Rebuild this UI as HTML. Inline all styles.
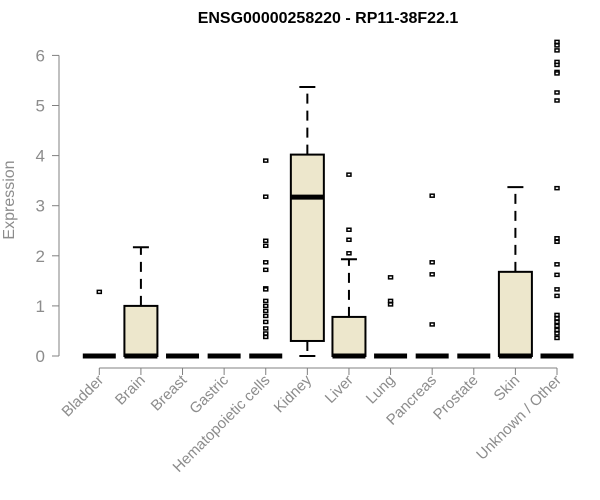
<!DOCTYPE html>
<html><head><meta charset="utf-8"><style>
body{margin:0;background:#fff;}
svg{display:block;font-family:"Liberation Sans",Arial,sans-serif;}
</style></head><body>
<svg id="chart" width="600" height="500">
<text x="328" y="23" text-anchor="middle" font-weight="bold" font-size="16">ENSG00000258220 - RP11-38F22.1</text>
<text transform="translate(14,200) rotate(-90)" text-anchor="middle" font-size="16" fill="#8c8c8c">Expression</text>
<g id="axes"></g>
<g id="boxes"></g>
</svg>
<script>
const categories=["Bladder","Brain","Breast","Gastric","Hematopoietic cells","Kidney","Liver","Lung","Pancreas","Prostate","Skin","Unknown / Other"];
const lowWhisker=[0,0,0,0,0,0,0,0,0,0,0,0];
const q1=[0,0,0,0,0,0.3,0,0,0,0,0,0];
const medians=[0,0,0,0,0,3.17,0,0,0,0,0,0];
const q3=[0,1.0,0,0,0,4.02,0.78,0,0,0,1.68,0];
const highWhisker=[0,2.17,0,0,0,5.37,1.93,0,0,0,3.37,0];
const outliers=[[1.28],[],[],[],[3.9,3.18,2.3,2.2,1.87,1.72,1.35,1.33,1.1,1.0,0.9,0.8,0.68,0.55,0.45,0.38],[],[3.62,2.52,2.32,2.05],[1.57,1.1,1.03],[3.2,1.87,1.63,0.63],[],[],[6.27,6.2,6.1,5.87,5.81,5.67,5.64,5.26,5.1,3.35,2.35,2.28,1.83,1.62,1.33,1.2,0.82,0.75,0.68,0.6,0.52,0.45,0.36]];
const yTicks=[0,1,2,3,4,5,6];
const NS="http://www.w3.org/2000/svg";
function y(v){return 356-v*50.1;}
function x(i){return 99.3+i*41.61;}
function mk(tag,attrs,parent){const e=document.createElementNS(NS,tag);for(const k in attrs)e.setAttribute(k,attrs[k]);parent.appendChild(e);return e;}
const axes=document.getElementById('axes');
const boxes=document.getElementById('boxes');
let ya=mk('line',{x1:59,x2:59,y1:y(6),y2:y(0),stroke:'#808080'},axes);


yTicks.forEach(t=>{
 let l=mk('line',{x1:52,x2:59,y1:y(t),y2:y(t),stroke:'#808080'},axes);
 
 
 let tx=mk('text',{x:45,y:y(t)+6,'text-anchor':'end','font-size':17,fill:'#8c8c8c'},axes);
 tx.textContent=t;
 
 
});
let xa=mk('line',{x1:x(0),x2:x(11),y1:368,y2:368,stroke:'#808080'},axes);


categories.forEach((c,i)=>{
 let l=mk('line',{x1:x(i),x2:x(i),y1:368,y2:375,stroke:'#808080'},axes);
 
 
 let tx=mk('text',{transform:`translate(${x(i)+5},${381}) rotate(-45)`,'text-anchor':'end','font-size':15,fill:'#8c8c8c'},axes);
 tx.textContent=c;
 
 
 const cx=x(i),hw=16.5;
 const g=mk('g',{},boxes);
 
 
 if(highWhisker[i]>q3[i]){
  mk('line',{x1:cx,x2:cx,y1:y(q3[i]),y2:y(highWhisker[i]),stroke:'#000','stroke-width':2,'stroke-dasharray':'10,7'},g);
  mk('line',{x1:cx-8,x2:cx+8,y1:y(highWhisker[i]),y2:y(highWhisker[i]),stroke:'#000','stroke-width':2},g);
 }
 if(q1[i]>lowWhisker[i]){
  mk('line',{x1:cx,x2:cx,y1:y(q1[i]),y2:y(lowWhisker[i]),stroke:'#000','stroke-width':2,'stroke-dasharray':'10,7'},g);
  mk('line',{x1:cx-8,x2:cx+8,y1:y(lowWhisker[i]),y2:y(lowWhisker[i]),stroke:'#000','stroke-width':2},g);
 }
 if(q3[i]>q1[i]){
  mk('rect',{x:cx-hw,y:y(q3[i]),width:2*hw,height:y(q1[i])-y(q3[i]),fill:'#ede7cc',stroke:'#000','stroke-width':2},g);
 }
 mk('line',{x1:cx-hw,x2:cx+hw,y1:y(medians[i]),y2:y(medians[i]),stroke:'#000','stroke-width':5},g);
 outliers[i].forEach(v=>{
  let p=mk('rect',{x:cx-2,y:y(v)-1.5,width:4,height:3,fill:'#fff',stroke:'#000','stroke-width':1.5},g);
  
  
 });
});
</script>
</body></html>
